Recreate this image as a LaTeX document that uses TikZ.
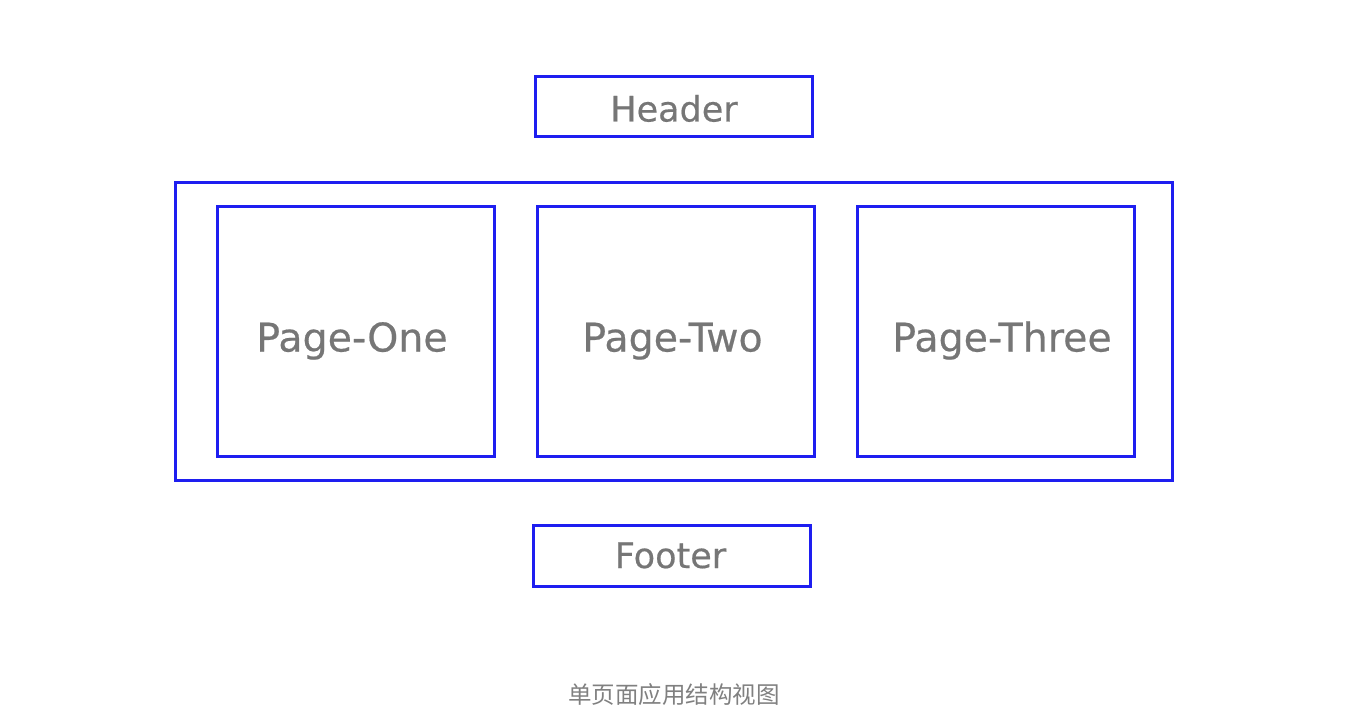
\documentclass[tikz,border=0pt]{standalone}
\usepackage{fontspec}
\setmainfont{DejaVu Sans}
\newfontfamily\lblfont[FakeBold=0.5]{DejaVu Sans}
\newfontfamily\cjk{Noto Sans CJK SC}
\definecolor{boxblue}{RGB}{30,30,240}
\definecolor{txtgray}{RGB}{118,118,118}
\definecolor{capgray}{RGB}{128,128,128}
\begin{document}
\begin{tikzpicture}[x=1pt,y=-1pt,
  frame/.style={draw=boxblue,line width=3pt,rectangle,inner sep=0pt},
  smalllbl/.style={anchor=base,inner sep=0pt,text=txtgray,font=\lblfont\fontsize{35}{40}\selectfont},
  biglbl/.style={anchor=base,inner sep=0pt,text=txtgray,font=\lblfont\fontsize{39.5}{44}\selectfont},
  pagebox/.style={frame,minimum width=277pt,minimum height=249pt}]
\useasboundingbox (0,0) rectangle (1348,711);
\node[frame,minimum width=277pt,minimum height=60pt] (header) at (673.5,107) {};
\node[smalllbl] (headert) at (674,121.5) {Header};
\node[frame,minimum width=997pt,minimum height=297pt] (outer) at (673.5,331.5) {};
\node[pagebox] (p1) at (355.5,331.5) {};
\node[pagebox] (p2) at (675.5,331.5) {};
\node[pagebox] (p3) at (995.5,331.5) {};
\node[biglbl] (p1t) at (352,351.5) {Page-One};
\node[biglbl] (p2t) at (672.5,351.5) {Page-Two};
\node[biglbl] (p3t) at (1002,351.5) {Page-Three};
\node[frame,minimum width=277pt,minimum height=61pt] (footer) at (671.5,555.5) {};
\node[smalllbl] (footert) at (670.5,568) {Footer};
\node[text=capgray,font=\cjk\fontsize{23.5}{26}\selectfont] (cap) at (674,695) {单页面应用结构视图};
\end{tikzpicture}
\end{document}
